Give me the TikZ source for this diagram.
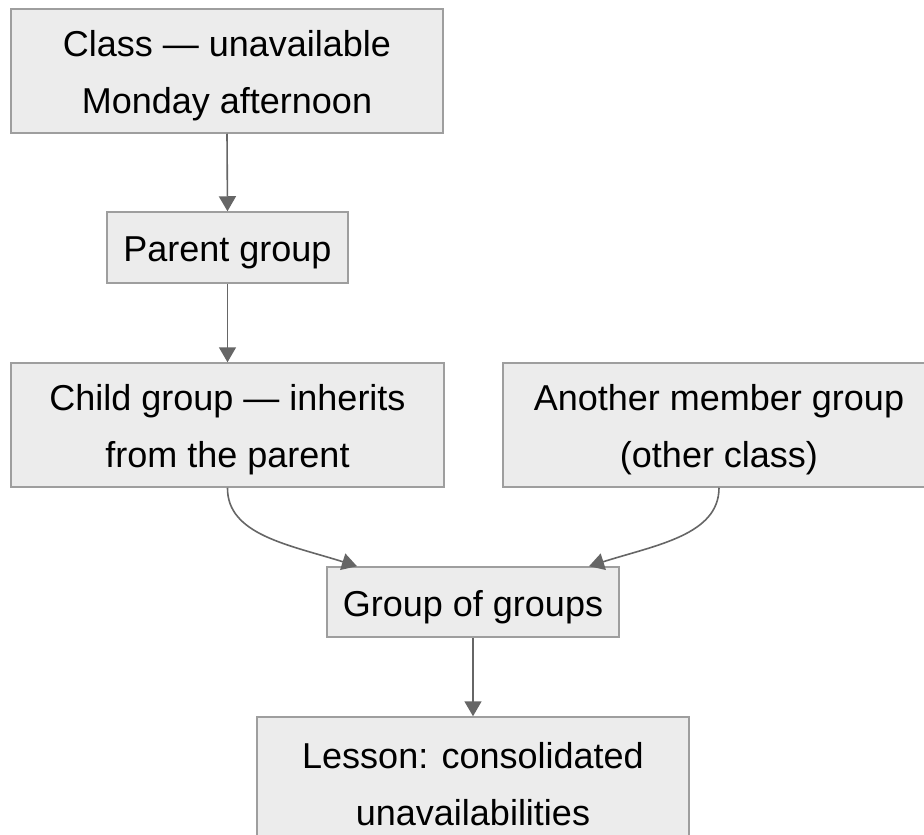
\documentclass[tikz,border=0pt]{standalone}
\usepackage{fontspec}
\setmainfont{Liberation Sans}
\usetikzlibrary{arrows.meta}
\definecolor{boxfill}{HTML}{ECECEC}
\definecolor{boxline}{HTML}{9E9E9E}
\definecolor{arrowc}{HTML}{666666}
\tikzset{
  flowbox/.style={draw=boxline, fill=boxfill, line width=1.5pt, inner sep=0pt},
  boxtext/.style={align=center, font=\fontsize{36}{57}\selectfont, text=black, inner sep=0pt, yshift=-5pt},
  conn/.style={draw=arrowc, line width=1.6pt, -{Triangle[length=15pt,width=17pt]}}
}
\begin{document}
\begin{tikzpicture}[x=1pt,y=-1pt]
\useasboundingbox (0,0) rectangle (924,835);
\node[flowbox, minimum width=432pt, minimum height=124pt,
  label={[boxtext]center:Class — unavailable\\Monday afternoon}] (c1) at (227,71) {};
\node[flowbox, minimum width=241pt, minimum height=71pt,
  label={[boxtext]center:Parent group}] (pg) at (227.5,247.5) {};
\node[flowbox, minimum width=433pt, minimum height=124pt,
  label={[boxtext]center:Child group — inherits\\from the parent}] (ch) at (227.5,425) {};
\node[flowbox, minimum width=432pt, minimum height=124pt,
  label={[boxtext]center:Another member group\\(other class)}] (an) at (719,425) {};
\node[flowbox, minimum width=292pt, minimum height=70pt,
  label={[boxtext]center:Group of groups}] (gg) at (473,602) {};
\node[flowbox, minimum width=432pt, minimum height=124pt,
  label={[boxtext]center:Lesson: consolidated\\unavailabilities}] (le) at (473,779) {};
\coordinate (ggl) at ([xshift=-116pt]gg.north);
\coordinate (ggr) at ([xshift=116pt]gg.north);
\draw[conn] (c1.south) -- (pg.north);
\draw[conn] (pg.south) -- (ch.north);
\draw[conn] (gg.south) -- (le.north);
\draw[conn] (ch.south) .. controls (227,535) and (290,545) .. (ggl);
\draw[conn] (an.south) .. controls (719,535) and (656,545) .. (ggr);
\end{tikzpicture}
\end{document}
